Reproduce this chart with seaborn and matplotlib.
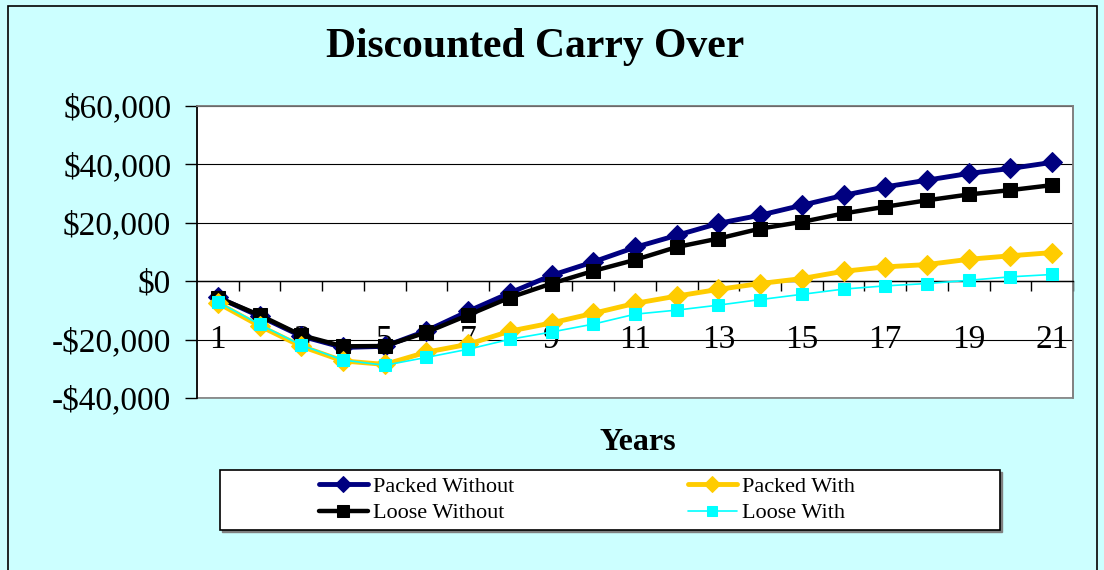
import matplotlib
matplotlib.use("Agg")
import matplotlib.pyplot as plt
import seaborn as sns
import pandas as pd
from matplotlib.ticker import FuncFormatter, FixedLocator
from matplotlib.patches import Rectangle

# ---- data ----
years = list(range(1, 22))
packed_without = [-5500, -12000, -18800, -22700, -22300, -17000, -10300, -4000, 2000, 6600,
                  11600, 15700, 19800, 22600, 26000, 29400, 32300, 34600, 36900, 38600, 40700]
loose_without = [-5600, -11600, -18500, -22300, -22200, -17500, -11600, -5600, -800, 3500,
                 7300, 11700, 14600, 18000, 20300, 23200, 25500, 27700, 29700, 31200, 32900]
packed_with = [-7500, -15300, -22300, -27300, -28500, -24300, -21600, -17100, -14300, -11000,
               -7600, -5100, -2800, -800, 900, 3400, 4900, 5700, 7500, 8700, 9800]
loose_with = [-7100, -14800, -21900, -27000, -28800, -26100, -23300, -19900, -17400, -14700,
              -11300, -9900, -8200, -6300, -4500, -2700, -1600, -800, 300, 1500, 2300]
series_names = ["Packed Without", "Loose Without", "Packed With", "Loose With"]
x_tick_labels = [str(y) for y in years if y % 2 == 1]
y_ticks = [-40000, -20000, 0, 20000, 40000, 60000]

sns.set_style("white")
plt.rcParams["font.family"] = ["Liberation Serif", "DejaVu Serif"]
plt.rcParams["text.color"] = "black"
plt.rcParams["xtick.color"] = "black"
plt.rcParams["ytick.color"] = "black"
plt.rcParams["axes.labelcolor"] = "black"

W, H = 1104, 570
fig = plt.figure(figsize=(W / 100, H / 100), dpi=100)
fig.patch.set_facecolor("#CCFFFF")
fig.patches.append(Rectangle((8 / W, -0.02), (1097 - 8) / W, 1 - 6 / H + 0.02,
                             transform=fig.transFigure, fill=False, ec="black", lw=1.2))

ax = fig.add_axes([197 / W, 1 - 398 / H, (1073 - 197) / W, (398 - 106) / H])
ax.set_facecolor("white")

styles = [
    dict(color="#000080", marker="D", markersize=10, linewidth=3.5),
    dict(color="#000000", marker="s", markersize=9.5, linewidth=3.2),
    dict(color="#FFCC00", marker="D", markersize=10, linewidth=3.5),
    dict(color="#00FFFF", marker="s", markersize=9, linewidth=1.2),
]
data_list = [packed_without, loose_without, packed_with, loose_with]
for name, vals, st in zip(series_names, data_list, styles):
    df = pd.DataFrame({"Year": years, "Value": vals})
    sns.lineplot(data=df, x="Year", y="Value", ax=ax, label=name,
                 color=st["color"], marker=st["marker"], markersize=st["markersize"],
                 linewidth=st["linewidth"], markeredgecolor=st["color"],
                 markerfacecolor=st["color"], zorder=3)

ax.set_xlim(0.5, 21.5)
ax.set_ylim(-40000, 60000)

# y axis
ax.set_yticks(y_ticks)
def money(v, pos):
    v = int(round(v))
    if v < 0:
        return "-${:,}".format(-v)
    return "${:,}".format(v)
ax.yaxis.set_major_formatter(FuncFormatter(money))
ax.tick_params(axis="y", which="major", direction="out", length=8.5, width=1,
               color="black", pad=10, labelsize=24, left=True)
ax.grid(axis="y", color="black", linewidth=0.8)
ax.set_axisbelow(True)

# x axis at zero
ax.spines["bottom"].set_position(("data", 0))
ax.spines["bottom"].set_color("black")
ax.spines["bottom"].set_linewidth(1)
ax.xaxis.set_major_locator(FixedLocator([y for y in years if y % 2 == 1]))
ax.set_xticklabels(x_tick_labels)
ax.xaxis.set_minor_locator(FixedLocator([y + 0.5 for y in years]))
ax.tick_params(axis="x", which="major", length=0, pad=31, labelsize=24, bottom=True)
ax.tick_params(axis="x", which="minor", direction="out", length=7.5, width=1,
               color="black", bottom=True)
ax.set_xlabel("")
ax.set_ylabel("")

for s in ["top", "right"]:
    ax.spines[s].set_color("#808080")
    ax.spines[s].set_linewidth(1.2)
ax.spines["left"].set_color("black")
ax.spines["left"].set_linewidth(1.2)
ax.add_patch(Rectangle((0, 0), 1, 1, transform=ax.transAxes, fill=False,
                       ec="#808080", lw=1.2, clip_on=False, zorder=0.5))

# title and axis title
fig.text(535 / W, 1 - 47 / H, "Discounted Carry Over", ha="center", va="center",
         fontsize=30, fontweight="bold")
fig.text(638 / W, 1 - 443 / H, "Years", ha="center", va="center",
         fontsize=23, fontweight="bold")

# legend
handles, labels = ax.get_legend_handles_labels()
ax.get_legend().remove()
fig.patches.append(Rectangle((222 / W, 1 - 532 / H), (1002 - 222) / W, 60 / H,
                             transform=fig.transFigure, fc="#808080", ec="#808080", lw=1))
fig.patches.append(Rectangle((220 / W, 1 - 530 / H), (1000 - 220) / W, 60 / H,
                             transform=fig.transFigure, fc="white", ec="black", lw=1.2))
fig.legend(handles, labels, loc="center", bbox_to_anchor=(587 / W, 1 - 500 / H),
           ncol=2, frameon=False, fontsize=16, handlelength=2.2, handletextpad=0.25,
           columnspacing=7.8, labelspacing=0.25, borderpad=0, markerscale=0.85)

fig.savefig("out.png", dpi=100, facecolor=fig.get_facecolor())
